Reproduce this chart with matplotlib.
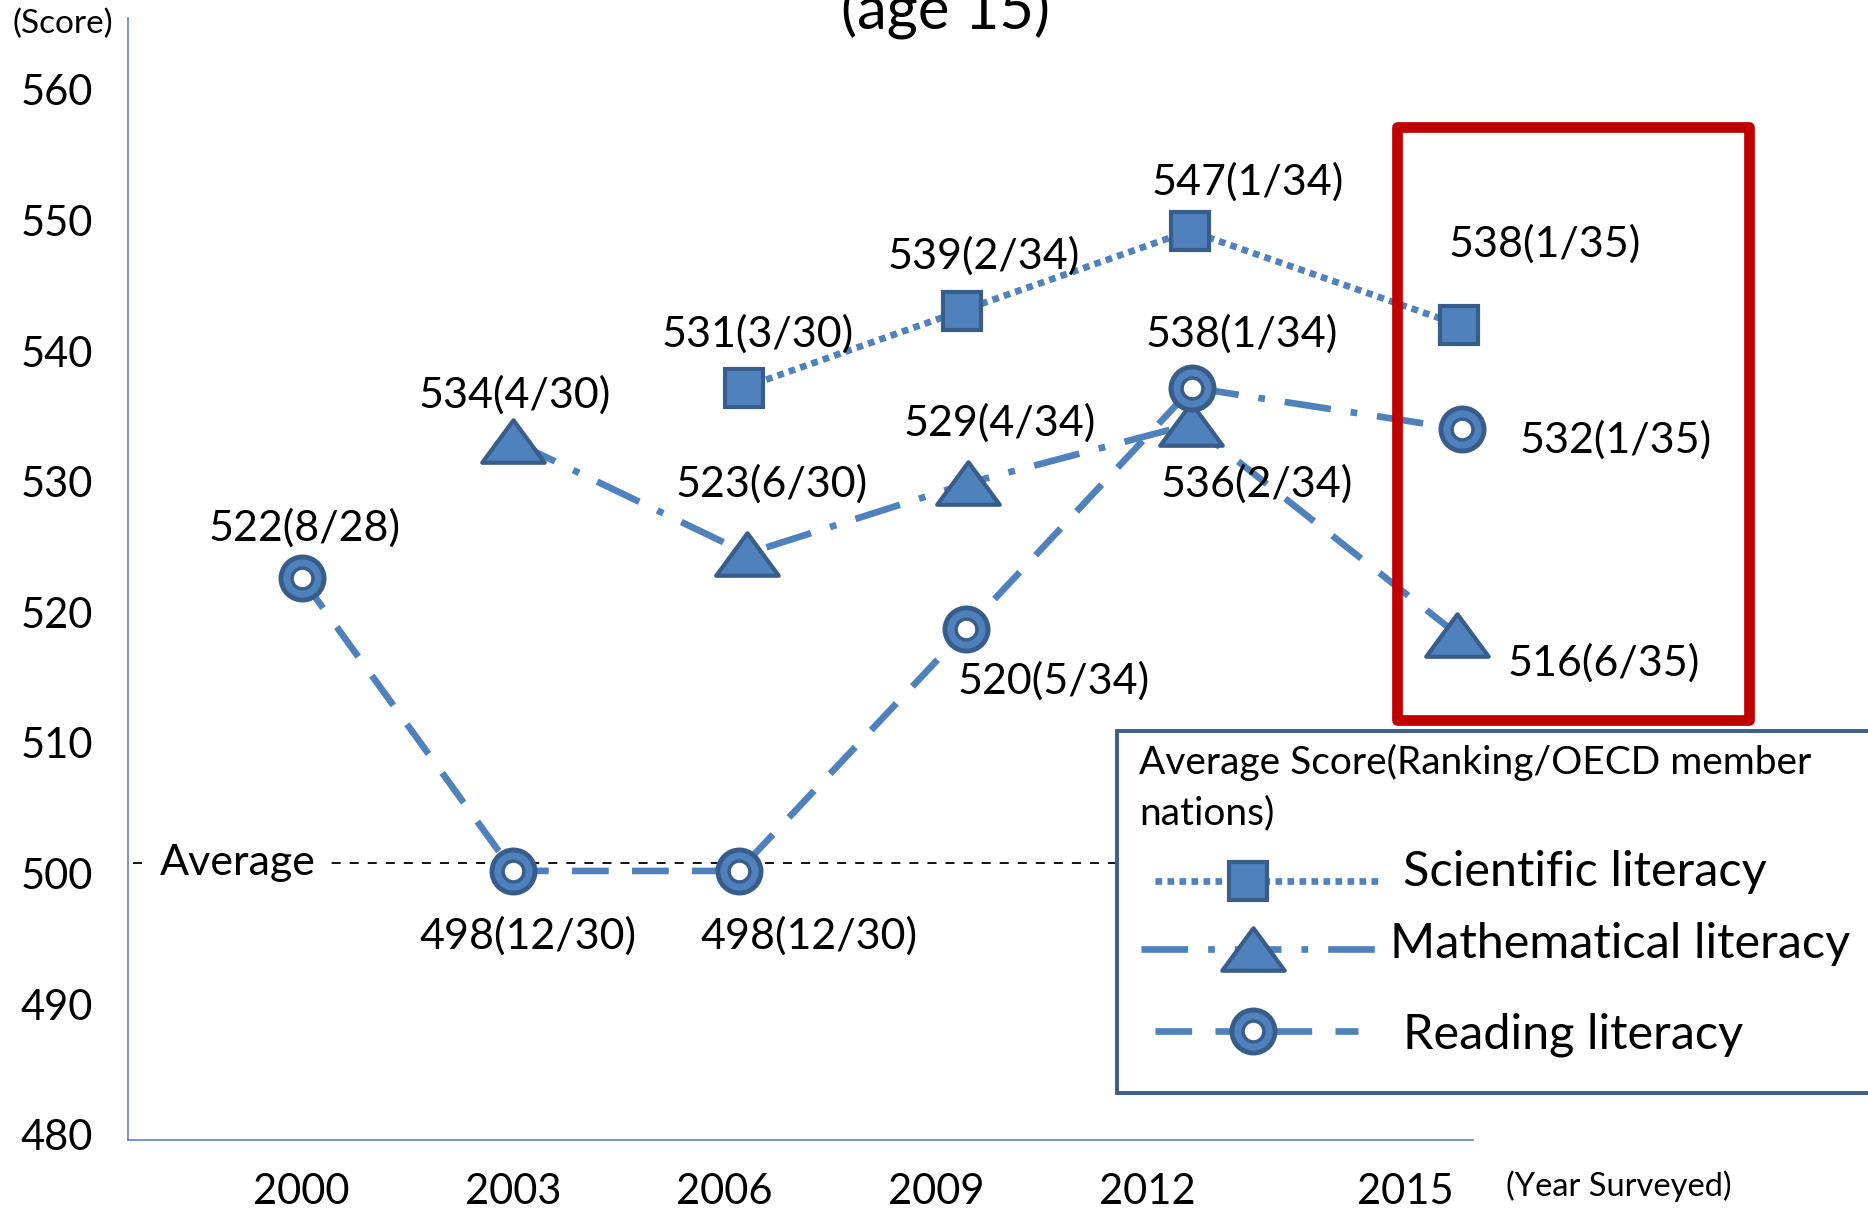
import matplotlib.pyplot as plt
from matplotlib.path import Path
from matplotlib.patches import Rectangle
from matplotlib.lines import Line2D

plt.rcParams['font.family'] = ['Lato', 'DejaVu Sans']

# data (marker positions, labels as printed)
tick_years = ['2000', '2003', '2006', '2009', '2012', '2015']
y_ticks = [480, 490, 500, 510, 520, 530, 540, 550, 560]

sci_x = [2006.27, 2009.37, 2012.6, 2016.42]
sci_y = [537.2, 543.1, 549.2, 542.0]
sci_labels = ['531(3/30)', '539(2/34)', '547(1/34)', '538(1/35)']

math_x = [2003.0, 2006.32, 2009.46, 2012.62, 2016.4]
math_y = [533.1, 524.5, 529.9, 534.4, 518.3]
math_labels = ['534(4/30)', '523(6/30)', '529(4/34)', '536(2/34)', '516(6/35)']

read_x = [2000.0, 2003.0, 2006.2, 2009.43, 2012.64, 2016.47]
read_y = [522.6, 500.2, 500.2, 518.7, 537.2, 534.0]
read_labels = ['522(8/28)', '498(12/30)', '498(12/30)', '520(5/34)', '538(1/34)', '532(1/35)']

average = 500.8

# layout / style
W, H = 1868, 1214
blue = '#4F81BD'
dark = '#385D8A'
lw = 4.8
dotted = (0, (1, 0.8))
dashdot = (0, (7, 3, 1, 3))
dashed = (0, (5.5, 3.5))
tick_pos = [2000, 2003, 2006, 2009, 2012, 2015.66]

sci_off = [(10.5, 38.5), (15.8, 39.6), (42.1, 35.3), (61.9, 58.3)]
math_off = [(1.1, 33.1), (18, 50.4), (22.7, 43.2), (47.5, -43.2), (105.6, -20.5)]
read_off = [(2.2, 36), (10.8, -46.8), (50.8, -46.8), (62.6, -37.4), (35.3, 38.5), (110.2, -7.6)]

tri = Path([(-1, -0.68), (1, -0.68), (0, 0.68), (-1, -0.68)],
           [Path.MOVETO, Path.LINETO, Path.LINETO, Path.CLOSEPOLY])

sq_kw = dict(marker='s', markersize=27, markerfacecolor=blue, markeredgecolor=dark, markeredgewidth=3)
tri_kw = dict(marker=tri, markersize=45, markerfacecolor=blue, markeredgecolor=dark, markeredgewidth=3)
ring_kw = dict(marker='o', markersize=31, markerfacecolor=blue, markeredgecolor=dark, markeredgewidth=3.5)
hole_kw = dict(marker='o', markersize=15, markerfacecolor='white', markeredgecolor=dark, markeredgewidth=2.5)


def fig_xy(x, y):
    return x / W, 1 - y / H


fig = plt.figure(figsize=(W / 100, H / 100), dpi=100)
ax = fig.add_axes([127.5 / W, 74 / H, 1345.5 / W, 1122 / H])

# lines (the 2015 segments swap styles as in the original)
ax.plot(sci_x, sci_y, color=blue, lw=lw, ls=dotted, dash_capstyle='butt', zorder=2, clip_on=False)
ax.plot(math_x[:4], math_y[:4], color=blue, lw=lw, ls=dashdot, zorder=2, clip_on=False)
ax.plot(math_x[3:], math_y[3:], color=blue, lw=lw, ls=dashed, zorder=2, clip_on=False)
ax.plot(read_x[:5], read_y[:5], color=blue, lw=lw, ls=dashed, zorder=2, clip_on=False)
ax.plot(read_x[4:], read_y[4:], color=blue, lw=lw, ls=dashdot, zorder=2, clip_on=False)

# markers
ax.plot(sci_x, sci_y, ls='none', zorder=3, clip_on=False, **sq_kw)
ax.plot(math_x, math_y, ls='none', zorder=3, clip_on=False, **tri_kw)
ax.plot(read_x, read_y, ls='none', zorder=3, clip_on=False, **ring_kw)
ax.plot(read_x, read_y, ls='none', zorder=4, clip_on=False, **hole_kw)

# data labels
for xs, ys, labs, offs in [(sci_x, sci_y, sci_labels, sci_off),
                           (math_x, math_y, math_labels, math_off),
                           (read_x, read_y, read_labels, read_off)]:
    for x, y, t, o in zip(xs, ys, labs, offs):
        ax.annotate(t, (x, y), xytext=o, textcoords='offset points',
                    ha='center', va='center', fontsize=31, zorder=5)

# average line
ax.axhline(average, xmin=0.004, color='black', lw=1.3, ls=(0, (5, 5)), zorder=1)
ax.text(0.082, average, 'Average', transform=ax.get_yaxis_transform(),
        ha='center', va='center', fontsize=31, zorder=2,
        bbox=dict(facecolor='white', edgecolor='none', pad=7))

ax.set_xlim(1997.53, 2016.62)
ax.set_ylim(479.6, 565.5)
ax.set_xticks(tick_pos)
ax.set_xticklabels(tick_years)
ax.set_yticks(y_ticks)
ax.tick_params(axis='both', length=0, labelsize=30)
ax.tick_params(axis='x', pad=24)
ax.tick_params(axis='y', pad=25)
for s in ['top', 'right']:
    ax.spines[s].set_visible(False)
for s in ['left', 'bottom']:
    ax.spines[s].set_color('#5B86C5')
    ax.spines[s].set_linewidth(1.2)

fig.text(*fig_xy(945, 30), '(age 15)', ha='center', va='baseline', fontsize=43)
fig.text(*fig_xy(63, 24), '(Score)', ha='center', va='center', fontsize=24)
fig.text(*fig_xy(1619, 1186), '(Year Surveyed)', ha='center', va='center', fontsize=23.5)

# legend box drawn by hand
x0, y0 = fig_xy(1117, 1093)
x1, y1 = fig_xy(1900, 731)
fig.add_artist(Rectangle((x0, y0), x1 - x0, y1 - y0, transform=fig.transFigure,
                         facecolor='white', edgecolor='#3B5E8C', lw=2.8, zorder=10))
fig.text(*fig_xy(1139, 762), 'Average Score(Ranking/OECD member', ha='left', va='center',
         fontsize=28, zorder=11)
fig.text(*fig_xy(1139, 813), 'nations)', ha='left', va='center', fontsize=28, zorder=11)

entries = [((1155, 1382), 1248, 881, dotted, [sq_kw], 'Scientific literacy', 1403, 872),
           ((1141, 1382), 1253, 949, dashdot, [tri_kw], 'Mathematical literacy', 1390, 944),
           ((1155, 1358), 1253, 1031, dashed, [ring_kw, hole_kw], 'Reading literacy', 1403, 1035)]
for (lx0, lx1), mx, my, style, mks, label, tx, ty in entries:
    a, b = fig_xy(lx0, my)
    c, _ = fig_xy(lx1, my)
    fig.add_artist(Line2D([a, c], [b, b], transform=fig.transFigure, color=blue, lw=lw,
                          ls=style, zorder=11))
    mxf, myf = fig_xy(mx, my)
    for k, mk in enumerate(mks):
        fig.add_artist(Line2D([mxf], [myf], transform=fig.transFigure, ls='none',
                              zorder=12 + k, **mk))
    fig.text(*fig_xy(tx, ty), label, ha='left', va='center', fontsize=35, zorder=12)

# red highlight box around 2015
rx0, ry0 = fig_xy(1397, 720)
rx1, ry1 = fig_xy(1749, 127)
fig.add_artist(Rectangle((rx0, ry0), rx1 - rx0, ry1 - ry0, transform=fig.transFigure,
                         fill=False, edgecolor='#C00000', lw=7.7, joinstyle='round', zorder=20))

fig.savefig('out.png', dpi=100)
